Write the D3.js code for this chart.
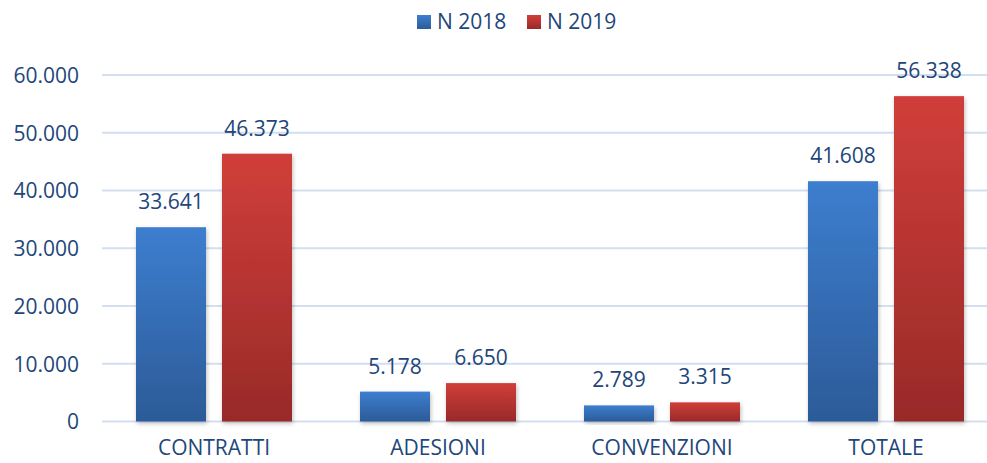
<!DOCTYPE html>
<html><head><meta charset="utf-8">
<script src="https://cdn.jsdelivr.net/npm/d3@7"></script>
<style>
body{margin:0;background:#fff;}
text{font-family:"Open Sans",sans-serif;fill:#22467A;}
</style></head>
<body><svg id="c" width="987" height="463"></svg>
<script>
const categories = ["CONTRATTI","ADESIONI","CONVENZIONI","TOTALE"];
const seriesNames = ["N 2018","N 2019"];
const values2018 = [33641, 5178, 2789, 41608];
const values2019 = [46373, 6650, 3315, 56338];
const yTicks = [0,10000,20000,30000,40000,50000,60000];

const svg = d3.select("#c");
const fmt = v => d3.format(",")(v).replace(/,/g,".");
const FS = "21px";

const x = d3.scaleBand().domain(categories).range([102, 998]).paddingInner(0).paddingOuter(0);
const y = d3.scaleLinear().domain([0,60000]).range([421.5, 75]);
const inner = d3.scaleBand().domain(seriesNames).range([34, 224-34]).paddingInner(16/86).paddingOuter(0);

const defs = svg.append("defs");
const g1 = defs.append("linearGradient").attr("id","gb").attr("x1",0).attr("y1",0).attr("x2",0).attr("y2",1);
g1.append("stop").attr("offset","0%").attr("stop-color","#3D7ECF");
g1.append("stop").attr("offset","100%").attr("stop-color","#2C5B98");
const g2 = defs.append("linearGradient").attr("id","gr").attr("x1",0).attr("y1",0).attr("x2",0).attr("y2",1);
g2.append("stop").attr("offset","0%").attr("stop-color","#D13E3A");
g2.append("stop").attr("offset","100%").attr("stop-color","#982A28");
const f = defs.append("filter").attr("id","sh").attr("x","-20%").attr("y","-20%").attr("width","140%").attr("height","140%");
f.append("feDropShadow").attr("dx",1).attr("dy",2).attr("stdDeviation",2).attr("flood-color","#000").attr("flood-opacity",0.25);

// gridlines
svg.append("g").selectAll("line").data(yTicks).join("line")
  .attr("x1",102).attr("x2",987).attr("y1",d=>y(d)).attr("y2",d=>y(d))
  .attr("stroke","#D3DEEF").attr("stroke-width",2);

const yAxis = d3.axisLeft(y).tickValues(yTicks).tickSize(0).tickFormat(fmt);
const ya = svg.append("g").attr("transform","translate(79,0)").call(yAxis);
ya.select(".domain").remove();
ya.selectAll("text").attr("x",0).attr("dy","0.35em").style("font-size",FS).style("font-family","Open Sans").attr("fill","#22467A");

const xAxis = d3.axisBottom(x).tickSize(0);
const xa = svg.append("g").attr("transform","translate(0,437)").call(xAxis);
xa.select(".domain").remove();
xa.selectAll("text").attr("dy","0.71em").style("font-size",FS).style("font-family","Open Sans").attr("fill","#22467A");

const data = categories.map((c,i)=>({c, vals:[{s:"N 2018",v:values2018[i]},{s:"N 2019",v:values2019[i]}]}));
const grp = svg.append("g").selectAll("g").data(data).join("g").attr("transform",d=>`translate(${x(d.c)},0)`);
grp.selectAll("rect").data(d=>d.vals).join("rect")
  .attr("x",d=>inner(d.s)).attr("width",inner.bandwidth())
  .attr("y",d=>y(d.v)).attr("height",d=>y(0)-y(d.v))
  .attr("fill",d=>d.s==="N 2018"?"url(#gb)":"url(#gr)")
  .attr("filter","url(#sh)");
grp.selectAll("text.lbl").data(d=>d.vals).join("text").attr("class","lbl")
  .attr("x",d=>inner(d.s)+inner.bandwidth()/2).attr("y",d=>y(d.v)-18)
  .attr("text-anchor","middle").style("font-size",FS).attr("fill","#22467A")
  .text(d=>fmt(d.v));

// legend
const leg = svg.append("g");
const legX = [417, 527];
seriesNames.forEach((s,i)=>{
  leg.append("rect").attr("x",legX[i]).attr("y",15).attr("width",14).attr("height",14)
    .attr("fill",i===0?"url(#gb)":"url(#gr)");
  leg.append("text").attr("x",legX[i]+20).attr("y",22).attr("dy","0.35em")
    .style("font-size",FS).attr("fill","#22467A").text(s);
});
</script></body></html>
